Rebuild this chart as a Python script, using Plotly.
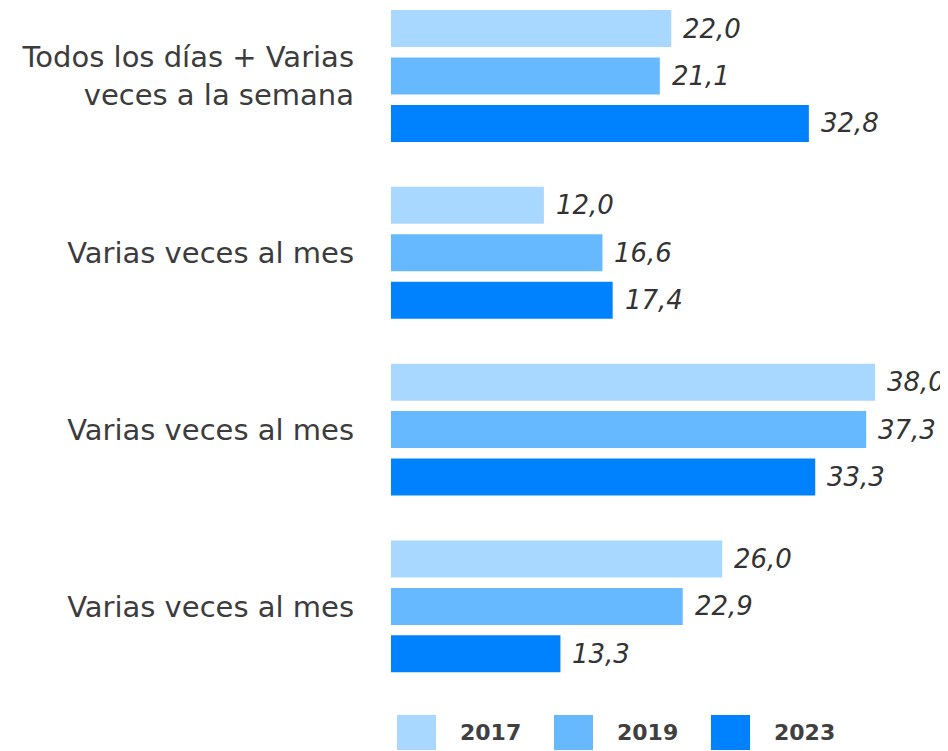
import plotly.graph_objects as go

categories = ["Todos los días + Varias<br>veces a la semana",
              "Varias veces al mes",
              "Varias veces al mes",
              "Varias veces al mes"]
years = ["2017", "2019", "2023"]
values = {
    "2017": [22.0, 12.0, 38.0, 26.0],
    "2019": [21.1, 16.6, 37.3, 22.9],
    "2023": [32.8, 17.4, 33.3, 13.3],
}
colors = {"2017": "#a8d8ff", "2019": "#66b8ff", "2023": "#0082ff"}

FONT = "DejaVu Sans"
# page body has an 8px margin, so the figure is offset by 8px
W, H = 940, 743
ml, mt = 383, 0
plot_bottom = 682
mb = H - plot_bottom
px_per_unit_x = 12.74
px_per_group = 176.8
first_center_px = 68
bargap = 0.195
bargroupgap = 0.22

plot_w = W - ml
plot_h = H - mt - mb
ytop = -first_center_px / px_per_group
ybot = ytop + plot_h / px_per_group

fig = go.Figure()
ypos = list(range(len(categories)))
for y in years:
    fig.add_trace(go.Bar(
        y=ypos, x=values[y], orientation="h", name=y,
        marker=dict(color=colors[y], line=dict(width=0)),
        showlegend=False, hoverinfo="skip",
    ))

slot = (1 - bargap) / len(years)
annotations = []
for k, y in enumerate(years):
    for i, v in enumerate(values[y]):
        annotations.append(dict(
            x=v, y=i + (k - 1) * slot, xref="x", yref="y",
            text=f"{v:.1f}".replace(".", ","), showarrow=False,
            xanchor="left", yanchor="middle", xshift=10,
            font=dict(family=FONT, size=26, color="#333333", style="italic"),
        ))

# custom legend
shapes = []
leg_x0 = 389
leg_step = 157
sq_w, sq_h = 39, 35
leg_y_top = 707
for k, y in enumerate(years):
    x0 = leg_x0 + k * leg_step
    shapes.append(dict(
        type="rect", xref="paper", yref="paper",
        x0=(x0 - ml) / plot_w, x1=(x0 + sq_w - ml) / plot_w,
        y0=(plot_bottom - (leg_y_top + sq_h)) / plot_h, y1=(plot_bottom - leg_y_top) / plot_h,
        fillcolor=colors[y], line=dict(width=0),
    ))
    annotations.append(dict(
        x=(x0 + sq_w + 22 - ml) / plot_w, y=(plot_bottom - (leg_y_top + sq_h / 2)) / plot_h,
        xref="paper", yref="paper", text=f"<b>{y}</b>", showarrow=False,
        xanchor="left", yanchor="middle",
        font=dict(family=FONT, size=22, color="#404040"),
    ))

fig.update_layout(
    width=W, height=H,
    margin=dict(l=ml, r=0, t=mt, b=mb, pad=0),
    paper_bgcolor="white", plot_bgcolor="white",
    barmode="group", bargap=bargap, bargroupgap=bargroupgap,
    xaxis=dict(range=[0, plot_w / px_per_unit_x], visible=False, fixedrange=True),
    yaxis=dict(range=[ybot, ytop], tickvals=ypos, ticktext=categories,
               showgrid=False, zeroline=False, showline=False, ticks="",
               ticklabelstandoff=36,
               tickfont=dict(family=FONT, size=29, color="#3c3c3c")),
    annotations=annotations, shapes=shapes,
    showlegend=False,
)

fig.write_html("out.html")
